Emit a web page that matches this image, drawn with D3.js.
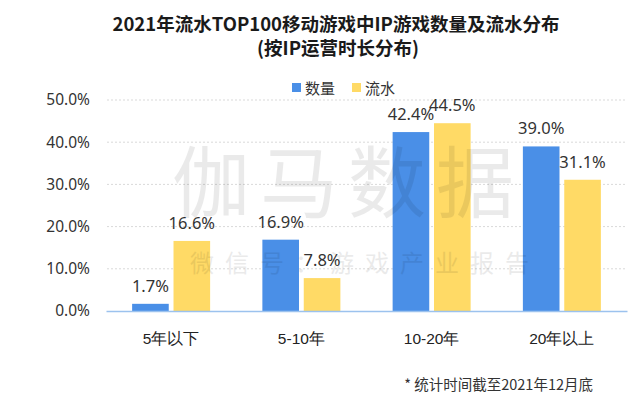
<!DOCTYPE html>
<html><head><meta charset="utf-8">
<script src="https://cdn.jsdelivr.net/npm/d3@7/dist/d3.min.js"></script>
<style>body{margin:0;background:#fff}svg{font-family:"Noto Sans CJK SC","Noto Sans",sans-serif}</style>
</head><body><svg id="c" width="640" height="410"></svg>
<script>
const categories = ["5年以下", "5-10年", "10-20年", "20年以上"];
const seriesNames = ["数量", "流水"];
const countValues = [1.7, 16.9, 42.4, 39.0];
const revenueValues = [16.6, 7.8, 44.5, 31.1];
const yTicks = [0, 10, 20, 30, 40, 50];
const colors = ["#4A8FE7", "#FFDA66"];

const svg = d3.select("#c");
const x = d3.scaleBand().domain(categories).range([106, 627]);
const y = d3.scaleLinear().domain([0, 50]).range([311, 100]);
const xs = d3.scaleBand().domain(seriesNames).range([-39, 39]).paddingInner(0.115);

// title
svg.append("text").attr("x", 336).attr("y", 31).attr("text-anchor", "middle")
  .attr("font-size", 18.5).attr("font-weight", "bold").attr("fill", "#1a1a1a")
  .text("2021年流水TOP100移动游戏中IP游戏数量及流水分布");
svg.append("text").attr("x", 338).attr("y", 55).attr("text-anchor", "middle")
  .attr("font-size", 18.5).attr("font-weight", "bold").attr("fill", "#1a1a1a")
  .text("(按IP运营时长分布)");

// legend
const leg = svg.append("g");
[[292, 0], [352, 1]].forEach(([lx, i]) => {
  leg.append("rect").attr("x", lx).attr("y", 83).attr("width", 9).attr("height", 9).attr("fill", colors[i]);
  leg.append("text").attr("x", lx + 13).attr("y", 93.5).attr("font-size", 15).attr("fill", "#333").text(seriesNames[i]);
});

// grid
svg.append("g").selectAll("line").data(yTicks.filter(d => d > 0)).join("line")
  .attr("x1", 107).attr("x2", 627).attr("y1", d => y(d)).attr("y2", d => y(d))
  .attr("stroke", "#d9d9d9").attr("stroke-dasharray", "2,2");

// y axis labels
const yAxis = d3.axisLeft(y).tickValues(yTicks).tickFormat(d => d.toFixed(1) + "%").tickSize(0).tickPadding(0);
const ya = svg.append("g").attr("transform", "translate(90,0)").call(yAxis);
ya.select(".domain").remove();
ya.selectAll("text").attr("font-size", 15.5).attr("fill", "#333").attr("font-family", "\"Noto Sans\",sans-serif");

const data = [countValues, revenueValues];
const g = svg.append("g");
data.forEach((vals, si) => {
  g.selectAll(".b" + si).data(vals).join("rect")
    .attr("x", (d, i) => x(categories[i]) + x.bandwidth() / 2 + xs(seriesNames[si]))
    .attr("y", d => y(d)).attr("width", xs.bandwidth()).attr("height", d => y(0) - y(d))
    .attr("fill", colors[si]);
  g.selectAll(".l" + si).data(vals).join("text")
    .attr("x", (d, i) => x(categories[i]) + x.bandwidth() / 2 + xs(seriesNames[si]) + xs.bandwidth() / 2)
    .attr("y", d => y(d) - 12).attr("text-anchor", "middle")
    .attr("font-size", 16.5).attr("fill", "#333").attr("font-family", "\"Noto Sans\",sans-serif")
    .text(d => d.toFixed(1) + "%");
});

// x axis
const xAxis = d3.axisBottom(x).tickSize(0).tickPadding(0);
const xa = svg.append("g").attr("transform", "translate(0,311)").call(xAxis);
xa.select(".domain").attr("stroke", "#9CC2EE").attr("stroke-width", 1.5);
xa.selectAll("text").attr("dy", 0).attr("y", 33).attr("font-size", 15.5).attr("fill", "#222");

// watermark
svg.append("text").attr("x", 348).attr("y", 212).attr("text-anchor", "middle")
  .attr("font-size", 78).attr("fill", "#000").attr("opacity", 0.08).attr("letter-spacing", 10)
  .text("伽马数据");
svg.append("text").attr("x", 365).attr("y", 272).attr("text-anchor", "middle")
  .attr("font-size", 24).attr("fill", "#000").attr("opacity", 0.08).attr("letter-spacing", 11)
  .text("微信号：游戏产业报告");

// footnote
svg.append("text").attr("x", 593).attr("y", 390).attr("text-anchor", "end")
  .attr("font-size", 14.5).attr("fill", "#333").text("* 统计时间截至2021年12月底");
</script></body></html>
